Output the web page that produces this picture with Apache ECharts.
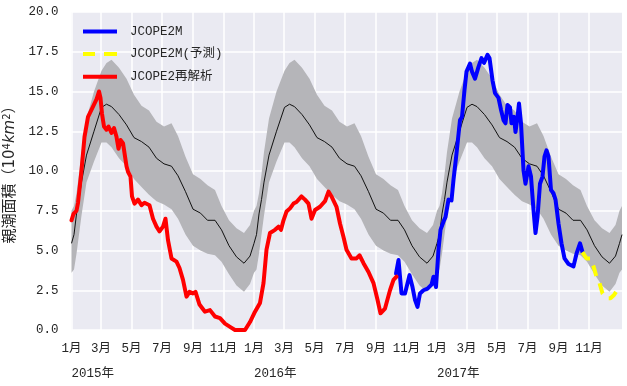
<!DOCTYPE html>
<html><head><meta charset="utf-8">
<script src="https://cdn.jsdelivr.net/npm/echarts@6.0.0/dist/echarts.min.js"></script>
<style>html,body{margin:0;padding:0;background:#fff}#c{width:627px;height:386px}</style>
</head><body><div id="c"></div>
<script>
// ---- axis / tick definitions ----
const firstDay = '2015-01-01';
const lastDay = '2018-01-06';
const monthTicks = [1, 3, 5, 7, 9, 11];
const yearLabels = ['2015', '2016', '2017'];
const yMin = 0, yMax = 20, yStep = 2.5;

// ---- climatology (mean and +-1 sd band), by month-day, same for each year ----
const climDays  = ['01-01','01-06','01-11','01-16','01-21','01-31','02-15','03-02','03-12','03-22','04-06','04-21','05-06','05-21','06-05','06-20','07-05','07-20','08-02','08-17','09-01','09-16','09-30','10-15','10-28','11-12','11-27','12-12','12-24'];
const climLower = [3.6, 3.8, 4.8, 6.0, 7.2, 9.3, 10.6, 11.8, 11.8, 11.5, 10.8, 10.3, 9.5, 9.0, 8.5, 8.1, 7.9, 7.6, 7.0, 6.0, 5.3, 5.0, 4.8, 4.7, 4.3, 3.5, 2.8, 2.4, 2.9];
const climMean  = [5.45, 6.0, 7.3, 8.2, 9.3, 11.0, 12.5, 14.0, 14.2, 14.05, 13.55, 12.9, 12.1, 11.85, 11.5, 10.8, 10.45, 10.3, 9.7, 8.7, 7.6, 7.35, 6.9, 6.9, 6.3, 5.3, 4.6, 4.2, 4.65];
const climUpper = [7.5, 7.8, 8.6, 9.8, 11.2, 13.3, 15.0, 16.3, 16.8, 17.0, 16.5, 15.8, 14.8, 14.1, 13.8, 13.1, 12.8, 13.0, 12.2, 10.9, 9.8, 9.5, 9.1, 8.8, 7.8, 6.9, 6.4, 6.1, 6.6];
const climYears = ['2015', '2016', '2017', '2018'];

// ---- JCOPE2 reanalysis ----
const reanalysis = [['2015-01-01',6.9],['2015-01-05',7.3],['2015-01-11',7.5],['2015-01-14',8.0],['2015-01-21',10.05],['2015-01-27',12.15],['2015-02-03',13.4],['2015-02-13',14.05],['2015-02-20',14.5],['2015-02-25',15.0],['2015-02-28',14.6],['2015-03-03',13.6],['2015-03-07',12.8],['2015-03-12',12.6],['2015-03-16',12.8],['2015-03-22',12.4],['2015-03-27',12.7],['2015-04-01',12.15],['2015-04-05',11.4],['2015-04-09',11.95],['2015-04-14',11.75],['2015-04-21',10.3],['2015-04-24',9.95],['2015-04-29',9.65],['2015-05-02',8.4],['2015-05-07',7.95],['2015-05-14',8.2],['2015-05-21',7.85],['2015-05-27',8.0],['2015-06-06',7.85],['2015-06-13',7.0],['2015-06-20',6.5],['2015-06-26',6.2],['2015-07-03',6.5],['2015-07-08',7.0],['2015-07-13',5.65],['2015-07-20',4.5],['2015-07-30',4.3],['2015-08-05',3.9],['2015-08-12',3.15],['2015-08-19',2.1],['2015-08-25',2.4],['2015-09-01',2.3],['2015-09-06',2.4],['2015-09-14',1.6],['2015-09-20',1.35],['2015-09-25',1.15],['2015-10-05',1.25],['2015-10-15',0.85],['2015-10-25',0.75],['2015-11-04',0.4],['2015-11-14',0.2],['2015-11-24',0.0],['2015-12-04',0.0],['2015-12-14',0.0],['2015-12-24',0.5],['2016-01-03',1.15],['2016-01-13',1.7],['2016-01-20',2.95],['2016-01-26',5.05],['2016-02-02',6.1],['2016-02-12',6.3],['2016-02-19',6.5],['2016-02-24',6.3],['2016-02-29',6.9],['2016-03-06',7.45],['2016-03-13',7.65],['2016-03-20',7.95],['2016-03-26',8.05],['2016-04-05',8.4],['2016-04-12',8.2],['2016-04-19',7.95],['2016-04-25',7.0],['2016-05-02',7.55],['2016-05-12',7.75],['2016-05-22',8.1],['2016-05-29',8.7],['2016-06-04',8.4],['2016-06-14',7.75],['2016-06-21',6.7],['2016-06-28',5.85],['2016-07-04',5.05],['2016-07-14',4.5],['2016-07-24',4.5],['2016-07-30',4.7],['2016-08-07',4.2],['2016-08-17',3.65],['2016-08-27',2.95],['2016-09-04',1.9],['2016-09-10',1.05],['2016-09-19',1.35],['2016-09-29',2.5],['2016-10-06',3.15],['2016-10-12',3.35]];

// ---- JCOPE2M ----
const jcope2m = [['2016-10-11',3.55],['2016-10-16',4.4],['2016-10-22',2.3],['2016-10-29',2.3],['2016-11-07',3.45],['2016-11-13',2.7],['2016-11-18',1.9],['2016-11-23',1.45],['2016-11-28',2.3],['2016-12-05',2.5],['2016-12-13',2.6],['2016-12-21',2.85],['2016-12-25',3.35],['2016-12-30',2.7],['2017-01-04',5.05],['2017-01-08',6.3],['2017-01-15',6.9],['2017-01-18',7.1],['2017-01-24',8.2],['2017-01-30',8.15],['2017-02-03',9.45],['2017-02-09',11.1],['2017-02-16',13.2],['2017-02-20',13.4],['2017-02-25',15.1],['2017-03-01',16.25],['2017-03-08',16.75],['2017-03-12',16.25],['2017-03-18',15.8],['2017-03-25',16.55],['2017-03-31',17.1],['2017-04-05',16.8],['2017-04-12',17.3],['2017-04-16',17.1],['2017-04-22',15.7],['2017-04-27',14.9],['2017-05-04',14.6],['2017-05-09',13.85],['2017-05-14',13.2],['2017-05-18',13.0],['2017-05-22',14.15],['2017-05-27',14.0],['2017-05-30',13.0],['2017-06-04',13.4],['2017-06-07',12.45],['2017-06-11',13.4],['2017-06-14',14.25],['2017-06-18',13.0],['2017-06-23',10.05],['2017-06-27',9.2],['2017-07-03',10.3],['2017-07-08',9.65],['2017-07-13',7.55],['2017-07-17',6.1],['2017-07-21',7.1],['2017-07-26',9.2],['2017-07-31',9.65],['2017-08-04',10.9],['2017-08-08',11.3],['2017-08-12',10.9],['2017-08-17',8.8],['2017-08-22',8.6],['2017-08-26',8.2],['2017-09-01',6.7],['2017-09-07',5.45],['2017-09-13',4.5],['2017-09-21',4.15],['2017-10-01',4.0],['2017-10-07',4.8],['2017-10-14',5.45],['2017-10-19',4.9]];

// ---- JCOPE2M forecast ----
const forecast = [['2017-10-19',4.9],['2017-10-21',4.8],['2017-10-27',4.5],['2017-11-04',4.5],['2017-11-10',4.0],['2017-11-16',3.35],['2017-11-22',2.95],['2017-11-28',2.3],['2017-12-06',2.0],['2017-12-14',2.0],['2017-12-21',2.2],['2017-12-25',2.4]];

// ---- build daily category axis ----
const categories = [];
for (let t = Date.parse(firstDay + 'T00:00:00Z'); t <= Date.parse(lastDay + 'T00:00:00Z'); t += 86400000) {
  categories.push(new Date(t).toISOString().slice(0, 10));
}
const catSet = new Set(categories);
const lowerData = [], bandData = [], meanData = [];
climYears.forEach(y => climDays.forEach((d, i) => {
  const key = y + '-' + d;
  if (!catSet.has(key)) return;
  lowerData.push([key, climLower[i]]);
  bandData.push([key, +(climUpper[i] - climLower[i]).toFixed(3)]);
  meanData.push([key, climMean[i]]);
}));

const isMonthTick = (idx, v) => v.slice(8) === '01' && monthTicks.includes(+v.slice(5, 7)) && yearLabels.includes(v.slice(0, 4));
const isYearTick = (idx, v) => v.slice(5) === '01-01' && yearLabels.includes(v.slice(0, 4));

const FONT = "'Liberation Mono', 'Noto Sans CJK JP', monospace";
const TXT = '#262626';
const SOLID_ICON = 'path://M0,0h34v4h-34z';
const DASH_ICON = 'path://M0,0h12v4h-12zM21,0h13v4h-13z';

const chart = echarts.init(document.getElementById('c'), null, { renderer: 'canvas' });
chart.setOption({
  animation: false,
  backgroundColor: '#ffffff',
  grid: { left: 71.5, right: 5, top: 12, bottom: 56, show: true, backgroundColor: '#eaeaf2', borderWidth: 0, outerBoundsMode: 'none' },
  legend: {
    orient: 'vertical', left: 83, top: 24.5, padding: 0,
    itemWidth: 34, itemHeight: 14, itemGap: 8.6,
    data: [
      { name: 'JCOPE2M', icon: SOLID_ICON },
      { name: 'JCOPE2M(予測)', icon: DASH_ICON },
      { name: 'JCOPE2再解析', icon: SOLID_ICON }
    ],
    textStyle: { fontFamily: FONT, fontSize: 12.5, color: TXT, padding: [0, 0, 0, 8], lineHeight: 14 }
  },
  xAxis: [{
    type: 'category', data: categories, boundaryGap: false,
    axisLine: { show: false }, axisTick: { show: false },
    splitLine: { show: true, interval: isMonthTick, lineStyle: { color: '#ffffff', width: 1.5 } },
    axisLabel: { interval: isMonthTick, formatter: v => (+v.slice(5, 7)) + '月', margin: 12, fontFamily: FONT, fontSize: 12.5, color: TXT }
  }, {
    type: 'category', data: categories, boundaryGap: false, position: 'bottom',
    axisLine: { show: false }, axisTick: { show: false }, splitLine: { show: false },
    axisLabel: { interval: isYearTick, formatter: v => v.slice(0, 4) + '年', align: 'left', margin: 37, fontFamily: FONT, fontSize: 12.5, color: TXT }
  }],
  yAxis: {
    type: 'value', min: yMin, max: yMax, interval: yStep,
    axisLine: { show: false }, axisTick: { show: false },
    splitLine: { show: true, lineStyle: { color: '#ffffff', width: 1.5 } },
    axisLabel: { formatter: v => v.toFixed(1), margin: 13, fontFamily: FONT, fontSize: 12.5, color: TXT },
    name: '親潮面積（10{sup|4}{it|km}{sup|2}）',
    nameLocation: 'middle', nameRotate: 90, nameGap: 46,
    nameTextStyle: {
      fontFamily: "'DejaVu Sans', 'Noto Sans CJK JP'", fontSize: 15, color: TXT,
      rich: {
        sup: { fontFamily: "'DejaVu Sans'", fontSize: 10, color: TXT, verticalAlign: 'top' },
        it: { fontFamily: "'DejaVu Sans'", fontStyle: 'italic', fontSize: 15, color: TXT }
      }
    }
  },
  series: [
    { name: 'lower', type: 'line', stack: 'band', data: lowerData, symbol: 'none', lineStyle: { width: 0, opacity: 0 }, silent: true, z: 1 },
    { name: 'band', type: 'line', stack: 'band', data: bandData, symbol: 'none', lineStyle: { width: 0, opacity: 0 }, areaStyle: { color: '#b5b5b9', opacity: 1 }, silent: true, z: 1 },
    { name: 'mean', type: 'line', data: meanData, symbol: 'none', lineStyle: { color: '#111111', width: 1 }, z: 2 },
    { name: 'JCOPE2M', type: 'line', data: jcope2m, symbol: 'none', color: '#0000ff', lineStyle: { color: '#0000ff', width: 4, join: 'round', cap: 'round' }, z: 3 },
    { name: 'JCOPE2M(予測)', type: 'line', data: forecast, symbol: 'none', color: '#ffff00', lineStyle: { color: '#ffff00', width: 4, type: [11, 8] }, z: 3 },
    { name: 'JCOPE2再解析', type: 'line', data: reanalysis, symbol: 'none', color: '#ff0000', lineStyle: { color: '#ff0000', width: 4, join: 'round', cap: 'round' }, z: 3 }
  ]
});
</script></body></html>
